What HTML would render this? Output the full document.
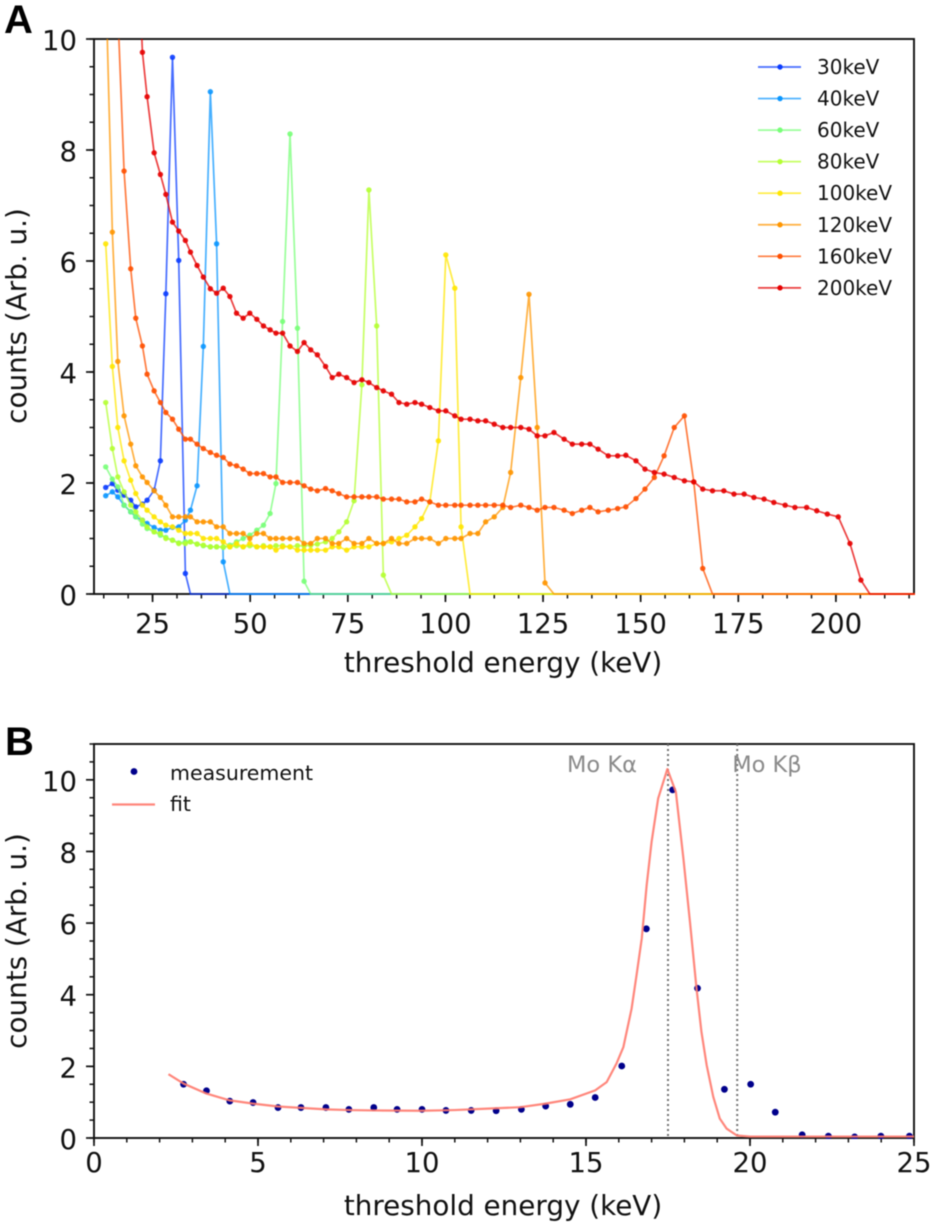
<!DOCTYPE html>
<html lang="en">
<head>
<meta charset="utf-8">
<title>Threshold energy spectra</title>
<style>
html,body{margin:0;padding:0;background:#fff;width:931px;height:1227px;overflow:hidden}
svg{display:block;filter:blur(0.4px)}
text{font-family:"DejaVu Sans","Liberation Sans",sans-serif;fill:#111}
</style>
</head>
<body>
<svg id="figure" xmlns="http://www.w3.org/2000/svg" width="931" height="1227" viewBox="0 0 931 1227">
<defs>
<clipPath id="clipA"><rect x="93" y="39" width="822" height="556"/></clipPath>
<clipPath id="clipB"><rect x="93" y="744" width="822" height="395"/></clipPath>
</defs>
<text x="4" y="33" style="font-family:'Liberation Sans',sans-serif;font-weight:bold;font-size:40px;fill:#000">A</text>
<text x="5" y="755" style="font-family:'Liberation Sans',sans-serif;font-weight:bold;font-size:40px;fill:#000">B</text>
<g id="panelA"></g>
<g id="panelB"></g>
</svg>
<script>
// ---------- Panel A data ----------
const thresholds = [13.0,14.7,16.1,17.7,19.4,20.7,22.4,23.6,25.4,27.0,28.4,30.1,31.7,33.4,34.7,36.4,38.0,39.8,41.4,43.1,44.8,46.5,48.2,49.9,51.7,53.4,55.1,56.6,58.3,60.2,62.1,63.8,65.5,67.2,69.3,71.0,72.7,74.7,76.6,78.6,80.4,82.4,84.1,86.2,88.1,90.1,92.2,93.9,96.0,98.2,100.1,102.4,104.0,106.3,108.3,110.3,112.5,114.7,116.7,119.3,121.4,123.5,125.5,127.8,130.4,132.5,134.9,137.0,139.1,141.7,144.1,146.2,148.8,151.1,153.5,156.0,158.6,161.2,163.6,165.9,168.4,171.3,173.9,176.5,179.0,181.6,184.1,187.0,189.5,192.5,195.1,197.8,200.6,203.6,206.4,208.7,212,215,218,221];
const counts30 = [1.92,1.99,1.87,1.78,1.69,1.57,1.62,1.69,1.87,2.40,5.41,9.67,6.01,0.37,
0,0,0,0,0,0,0,0,0,0,0,0,0,0,0,0,0,0,0,0,0,0,0,0,0,0,0,0,0,0,0,0,0,0,0,0,0,0,0,0,0,0,0,0,0,0,0,0,0,0,0,0,0,0,0,0,0,0,0,0,0,0,0,0,0,0,0,0,0,0,0,0];
const counts40 = [1.77,1.84,1.75,1.60,1.48,1.39,1.33,1.27,1.20,1.15,1.15,1.20,1.21,1.33,1.51,1.95,4.46,9.05,6.31,0.58,
0,0,0,0,0,0,0,0,0,0,0,0,0,0,0,0,0,0,0,0,0,0,0,0,0,0,0,0,0,0,0,0,0,0,0,0,0,0,0,0,0,0,0,0,0,0,0,0,0,0,0,0,0,0,0,0,0,0,0,0,0,0,0,0,0,0,0,0,0,0];
const counts60 = [2.29,2.07,1.93,1.60,1.48,1.39,1.26,1.18,1.12,1.06,1.02,0.97,0.92,0.94,0.94,0.90,0.87,0.85,0.85,0.84,0.88,0.94,1.00,1.06,1.15,1.24,1.45,1.99,4.91,8.29,4.79,0.23,
0,0,0,0,0,0,0,0,0,0,0,0,0,0,0,0,0,0,0,0,0,0,0,0,0,0,0,0,0,0,0,0,0,0,0,0,0,0,0,0,0,0,0,0,0,0,0,0,0,0,0,0,0,0,0,0,0,0,0,0,0,0,0,0,0,0,0,0];
const counts80 = [3.45,2.62,2.11,1.84,1.60,1.48,1.33,1.21,1.12,1.09,1.00,0.97,0.91,0.91,0.94,0.90,0.88,0.85,0.85,0.85,0.85,0.87,0.85,0.87,0.85,0.87,0.85,0.87,0.87,0.85,0.87,0.87,0.88,0.90,0.94,1.00,1.12,1.30,1.68,3.77,7.28,4.83,0.34,
0,0,0,0,0,0,0,0,0,0,0,0,0,0,0,0,0,0,0,0,0,0,0,0,0,0,0,0,0,0,0,0,0,0,0,0,0,0,0,0,0,0,0,0,0,0,0,0,0,0,0,0,0,0,0,0,0];
const counts100 = [6.31,4.10,3.00,2.40,2.05,1.81,1.60,1.51,1.39,1.30,1.24,1.21,1.15,1.09,1.09,1.09,1.00,1.00,1.00,0.94,0.85,0.91,0.85,0.91,0.85,0.85,0.85,0.79,0.85,0.85,0.79,0.79,0.79,0.79,0.79,0.85,0.85,0.79,0.85,0.85,0.85,0.91,0.91,0.94,1.00,1.06,1.21,1.36,1.66,2.76,6.11,5.51,1.21,
0,0,0,0,0,0,0,0,0,0,0,0,0,0,0,0,0,0,0,0,0,0,0,0,0,0,0,0,0,0,0,0,0,0,0,0,0,0,0,0,0,0,0,0,0,0,0];
const counts120 = [11.1,6.52,4.19,3.21,2.70,2.31,2.11,2.01,1.86,1.74,1.60,1.39,1.39,1.39,1.39,1.30,1.30,1.30,1.21,1.21,1.09,1.09,1.09,1.00,1.09,1.09,1.00,1.00,1.00,1.00,1.00,0.91,0.91,1.00,1.00,0.91,0.91,1.00,0.91,0.91,1.00,0.91,0.91,1.00,0.91,0.91,1.00,1.00,1.00,0.91,1.00,1.00,1.00,1.09,1.09,1.30,1.39,1.56,2.19,3.90,5.40,3.00,0.20,
0,0,0,0,0,0,0,0,0,0,0,0,0,0,0,0,0,0,0,0,0,0,0,0,0,0,0,0,0,0,0,0,0,0,0,0,0];
const counts160 = [20,14,10.5,7.62,5.86,4.97,4.47,3.96,3.66,3.45,3.27,3.15,2.97,2.79,2.79,2.70,2.62,2.55,2.50,2.46,2.34,2.31,2.25,2.17,2.17,2.17,2.11,2.11,2.01,2.01,2.01,1.95,1.89,1.86,1.90,1.86,1.81,1.75,1.75,1.75,1.75,1.75,1.71,1.71,1.71,1.66,1.66,1.71,1.66,1.60,1.60,1.60,1.60,1.60,1.60,1.60,1.60,1.60,1.56,1.60,1.56,1.51,1.56,1.56,1.51,1.45,1.51,1.56,1.48,1.51,1.54,1.57,1.72,1.89,2.10,2.49,3.00,3.21,2.02,0.46,
0,0,0,0,0,0,0,0,0,0,0,0,0,0,0,0,0,0,0,0];
const counts200 = [40,30,24,19,15,12.6,9.76,8.96,7.95,7.56,7.20,6.70,6.54,6.37,6.16,5.92,5.71,5.50,5.42,5.51,5.36,5.06,4.97,5.06,4.95,4.83,4.76,4.70,4.70,4.47,4.37,4.53,4.40,4.31,4.10,3.90,3.96,3.90,3.81,3.86,3.81,3.72,3.66,3.60,3.45,3.42,3.45,3.42,3.36,3.30,3.30,3.21,3.15,3.15,3.12,3.12,3.06,3.00,3.00,3.00,2.97,2.85,2.85,2.91,2.79,2.70,2.70,2.70,2.61,2.49,2.49,2.50,2.40,2.25,2.19,2.16,2.10,2.04,2.02,1.89,1.86,1.86,1.80,1.80,1.74,1.71,1.65,1.60,1.56,1.56,1.50,1.44,1.39,0.91,0.25,
0,0,0,0,0];
const seriesLabels = ["30keV","40keV","60keV","80keV","100keV","120keV","160keV","200keV"];
const seriesColors = ["#0a3cff","#0a96ff","#78ff78","#b4ff32","#ffe600","#ff9600","#ff5000","#e60000"];
const seriesValues = [counts30,counts40,counts60,counts80,counts100,counts120,counts160,counts200];
const xTicksA = [25,50,75,100,125,150,175,200];
const yTicksA = [0,2,4,6,8,10];

// ---------- Panel B data ----------
const measuredEnergy = [2.73,3.43,4.14,4.85,5.61,6.31,7.07,7.77,8.53,9.24,10.0,10.73,11.5,12.26,13.03,13.77,14.52,15.28,16.09,16.84,17.64,18.4,19.22,20.02,20.77,21.59,22.39,23.19,23.99,24.86];
const measuredCounts = [1.50,1.32,1.03,0.99,0.85,0.85,0.85,0.80,0.85,0.80,0.80,0.77,0.77,0.76,0.80,0.89,0.94,1.13,2.01,5.84,9.72,4.18,1.36,1.50,0.72,0.09,0.05,0.03,0.05,0.05];
const fitEnergy = [2.27,2.73,3.43,4.14,4.85,5.61,6.31,7.07,7.77,8.53,10,11,12,13,13.77,14.52,15.28,15.63,15.93,16.14,16.39,16.54,16.7,16.85,17.0,17.2,17.48,17.74,17.97,18.17,18.37,18.52,18.68,18.88,19.08,19.29,19.6,20,25];
const fitCounts = [1.78,1.52,1.24,1.05,0.96,0.88,0.84,0.80,0.78,0.77,0.76,0.78,0.82,0.86,0.96,1.08,1.33,1.56,2.08,2.54,3.61,4.54,5.57,7.06,8.27,9.48,10.3,9.66,7.8,6.03,4.17,2.96,2.03,1.15,0.54,0.26,0.07,0.04,0.04];
const lineEnergies = [17.5,19.61];
const lineLabels = ["Mo Kα","Mo Kβ"];
const xTicksB = [0,5,10,15,20,25];
const yTicksB = [0,2,4,6,8,10];

// ---------- helpers ----------
const NS = "http://www.w3.org/2000/svg";
function mk(parent, tag, attrs, txt){
  const e = document.createElementNS(NS, tag);
  for (const k in attrs) e.setAttribute(k, attrs[k]);
  if (txt !== undefined) e.textContent = txt;
  parent.appendChild(e);
  return e;
}
function frame(g, r, sx, sy, xMaj, yMaj, xMinStep, xMinStart, xMinEnd, yMinStep, yMax, xBase, prefix){
  const ticks = mk(g, "g", {});
  
  
  for (let v = xMinStart; v <= xMinEnd + 1e-6; v += xMinStep) {
    mk(ticks, "line", {x1:sx(v), x2:sx(v), y1:r.b, y2:r.b+4.5, stroke:"#111", "stroke-width":1.5});
  }
  for (let v = 0; v <= yMax + 1e-6; v += yMinStep) {
    mk(ticks, "line", {x1:r.l-4.5, x2:r.l, y1:sy(v), y2:sy(v), stroke:"#111", "stroke-width":1.5});
  }
  xMaj.forEach(v => {
    mk(ticks, "line", {x1:sx(v), x2:sx(v), y1:r.b, y2:r.b+8, stroke:"#111", "stroke-width":1.7});
    const t = mk(ticks, "text", {x:sx(v), y:xBase, "text-anchor":"middle", "font-size":27.5}, String(v));
    
    
  });
  yMaj.forEach(v => {
    mk(ticks, "line", {x1:r.l-8, x2:r.l, y1:sy(v), y2:sy(v), stroke:"#111", "stroke-width":1.7});
    const t = mk(ticks, "text", {x:r.l-17, y:sy(v)+11, "text-anchor":"end", "font-size":27.5}, String(v));
    
    
  });
  const spine = mk(g, "rect", {x:r.l, y:r.t, width:r.r-r.l, height:r.b-r.t, fill:"none", stroke:"#111", "stroke-width":1.9});
  
  
}
function titles(g, cx, xBase, cy, prefix){
  const xt = mk(g, "text", {x:cx, y:xBase, "text-anchor":"middle", "font-size":27.8}, "threshold energy (keV)");
  
  
  const yt = mk(g, "text", {x:0, y:0, "text-anchor":"middle", "font-size":27.8, transform:"translate(26,"+cy+") rotate(-90)"}, "counts (Arb. u.)");
  
  
}

// ---------- Panel A ----------
(function(){
  const g = document.getElementById("panelA");
  const r = {l:94, r:914, t:39, b:594};
  const sx = v => r.l + (v - 10) * (r.r - r.l) / 210;
  const sy = v => r.b - v * (r.b - r.t) / 10;
  frame(g, r, sx, sy, xTicksA, yTicksA, 6.25, 12.5, 220, 0.5, 10, 633, "panel-a");
  const plot = mk(g, "g", {"clip-path":"url(#clipA)"});
  seriesValues.forEach((vals, i) => {
    const sg = mk(plot, "g", {});
    
    
    const pts = vals.map((v, j) => sx(thresholds[j]).toFixed(2) + "," + sy(v).toFixed(2)).join(" ");
    mk(sg, "polyline", {points:pts, fill:"none", stroke:seriesColors[i], "stroke-width":1.7, "stroke-opacity":0.75});
    vals.forEach((v, j) => {
      if (v > 0) mk(sg, "circle", {cx:sx(thresholds[j]).toFixed(2), cy:sy(v).toFixed(2), r:2.7, fill:seriesColors[i], "fill-opacity":0.9});
    });
  });
  titles(g, 503, 672, 316, "panel-a");
  const leg = mk(g, "g", {});
  
  
  seriesLabels.forEach((lab, i) => {
    const y = 67 + i * 31.55;
    const e = mk(leg, "g", {});
    
    
    mk(e, "line", {x1:758, x2:801, y1:y, y2:y, stroke:seriesColors[i], "stroke-width":1.7, "stroke-opacity":0.75});
    mk(e, "circle", {cx:780, cy:y, r:2.7, fill:seriesColors[i]});
    mk(e, "text", {x:817, y:y+7, "font-size":20}, lab);
  });
})();

// ---------- Panel B ----------
(function(){
  const g = document.getElementById("panelB");
  const r = {l:94, r:914, t:744, b:1138};
  const sx = v => r.l + v * (r.r - r.l) / 25;
  const sy = v => r.b - v * (r.b - r.t) / 11;
  frame(g, r, sx, sy, xTicksB, yTicksB, 1, 0, 25, 0.5, 11, 1172, "panel-b");
  const plot = mk(g, "g", {"clip-path":"url(#clipB)"});
  lineEnergies.forEach((v, i) => {
    const l = mk(plot, "line", {x1:sx(v), x2:sx(v), y1:r.t, y2:r.b, stroke:"#707070", "stroke-width":2, "stroke-dasharray":"2 3"});
    
    
  });
  const meas = mk(plot, "g", {});
  
  
  measuredCounts.forEach((v, i) => {
    mk(meas, "circle", {cx:sx(measuredEnergy[i]).toFixed(2), cy:sy(v).toFixed(2), r:3.4, fill:"#00008b"});
  });
  const fit = mk(plot, "polyline", {points:fitCounts.map((v, i) => sx(fitEnergy[i]).toFixed(2) + "," + sy(v).toFixed(2)).join(" "), fill:"none", stroke:"#ff7a6e", "stroke-width":2.2, "stroke-opacity":0.9, "stroke-linejoin":"round"});
  
  
  titles(g, 503, 1215, 941, "panel-b");
  lineLabels.forEach((lab, i) => {
    const t = mk(g, "text", {x:sx(lineEnergies[i]) + [-101,-5][i], y:772, "font-size":22.5, style:"fill:#8a8a8a"}, lab);
    
    
  });
  const leg = mk(g, "g", {});
  
  
  mk(leg, "circle", {cx:134, cy:771.5, r:3.4, fill:"#00008b"});
  mk(leg, "text", {x:170, y:780, "font-size":20.5}, "measurement");
  mk(leg, "line", {x1:112, x2:155, y1:804.5, y2:804.5, stroke:"#ff7a6e", "stroke-width":2.2, "stroke-opacity":0.9});
  mk(leg, "text", {x:170, y:811, "font-size":20.5}, "fit");
})();
</script>
</body>
</html>
